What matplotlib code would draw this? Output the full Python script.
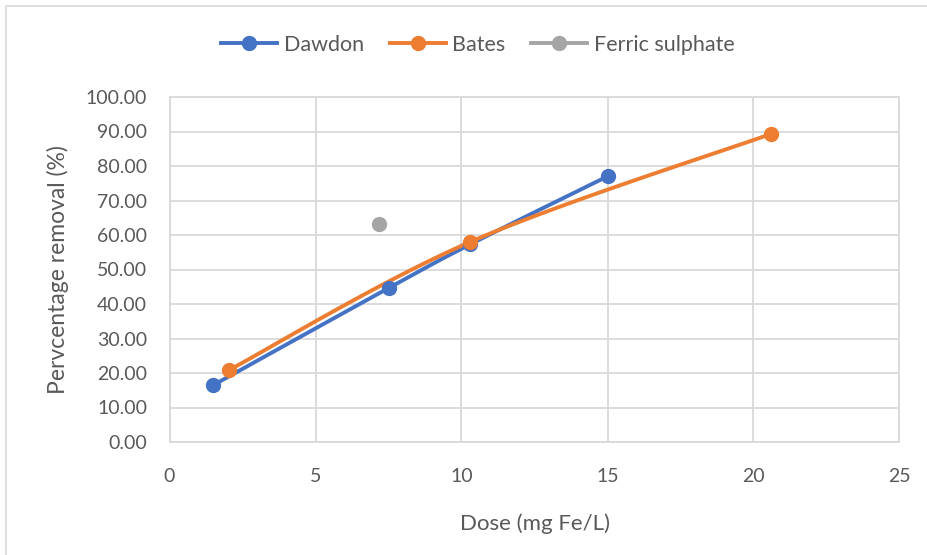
import numpy as np
import matplotlib
matplotlib.use("Agg")
import matplotlib.pyplot as plt
from matplotlib.patches import Rectangle

# Data
dawdon_x = [1.5, 7.5, 10.3, 15.0]
dawdon_y = [16.5, 44.6, 57.3, 77.0]
bates_x = [2.05, 10.3, 20.6]
bates_y = [20.9, 58.0, 89.3]
ferric_x = [7.16]
ferric_y = [63.2]
x_ticks = [0, 5, 10, 15, 20, 25]
y_ticks = [0, 10, 20, 30, 40, 50, 60, 70, 80, 90, 100]

BLUE = "#4472C4"
ORANGE = "#ED7D31"
GRAY = "#A5A5A5"
TEXT = "#595959"
GRID = "#D9D9D9"

plt.rcParams['font.family'] = ['Lato', 'DejaVu Sans']


def excel_smooth(xs, ys, n=40):
    P = np.column_stack([xs, ys]).astype(float)
    if len(P) < 2:
        return P[:, 0], P[:, 1]
    out = []
    for i in range(len(P) - 1):
        p0 = P[i - 1] if i > 0 else P[i]
        p1 = P[i]
        p2 = P[i + 1]
        p3 = P[i + 2] if i + 2 < len(P) else P[i + 1]
        c1 = p1 + (p2 - p0) / 6.0
        c2 = p2 - (p3 - p1) / 6.0
        t = np.linspace(0, 1, n)[:, None]
        seg = ((1 - t) ** 3) * p1 + 3 * ((1 - t) ** 2) * t * c1 + 3 * (1 - t) * t ** 2 * c2 + t ** 3 * p2
        out.append(seg if i == 0 else seg[1:])
    S = np.vstack(out)
    return S[:, 0], S[:, 1]


fig = plt.figure(figsize=(9.28, 5.55), dpi=100)
fig.patches.append(Rectangle((6 / 928, -0.1), 1.2, (555 - 6) / 555 + 0.1,
                             transform=fig.transFigure, fill=False,
                             edgecolor=GRID, linewidth=1.2, zorder=0))
ax = fig.add_axes([169.5 / 928, 113 / 555, 730 / 928, 345 / 555])

lw = 2.8
ms = 10
for xs, ys, c, lab in [(dawdon_x, dawdon_y, BLUE, "Dawdon"), (bates_x, bates_y, ORANGE, "Bates")]:
    sx, sy = excel_smooth(xs, ys)
    ax.plot(sx, sy, color=c, lw=lw, solid_capstyle='round', zorder=3)
    ax.plot(xs, ys, 'o', color=c, ms=ms, zorder=4)
    ax.plot([], [], '-o', color=c, lw=lw, ms=ms, label=lab)
ax.plot(ferric_x, ferric_y, 'o', color=GRAY, ms=ms, zorder=4)
ax.plot([], [], '-o', color=GRAY, lw=lw, ms=ms, label="Ferric sulphate")

ax.set_xlim(0, 25)
ax.set_ylim(0, 100)
ax.set_xticks(x_ticks)
ax.set_yticks(y_ticks)
ax.set_yticklabels([f"{v:.2f}" for v in y_ticks])
ax.grid(True, color=GRID, lw=1.3)
ax.set_axisbelow(True)
for s in ax.spines.values():
    s.set_color(GRID)
    s.set_linewidth(1.3)
ax.tick_params(length=0, labelsize=14, labelcolor=TEXT)
ax.tick_params(axis='y', pad=16)
ax.tick_params(axis='x', pad=19)
ax.set_xlabel("Dose (mg Fe/L)", fontsize=16, color=TEXT, labelpad=20)
ax.set_ylabel("Pervcentage removal (%)", fontsize=16.5, color=TEXT, labelpad=12)

fig.legend(loc='center', bbox_to_anchor=(0.5 + 14 / 928, 1 - 45 / 555), ncol=3, frameon=False,
           fontsize=15.5, labelcolor=TEXT, handlelength=2.6, columnspacing=1.2,
           handletextpad=0.3)

fig.savefig("out.png", dpi=100)
